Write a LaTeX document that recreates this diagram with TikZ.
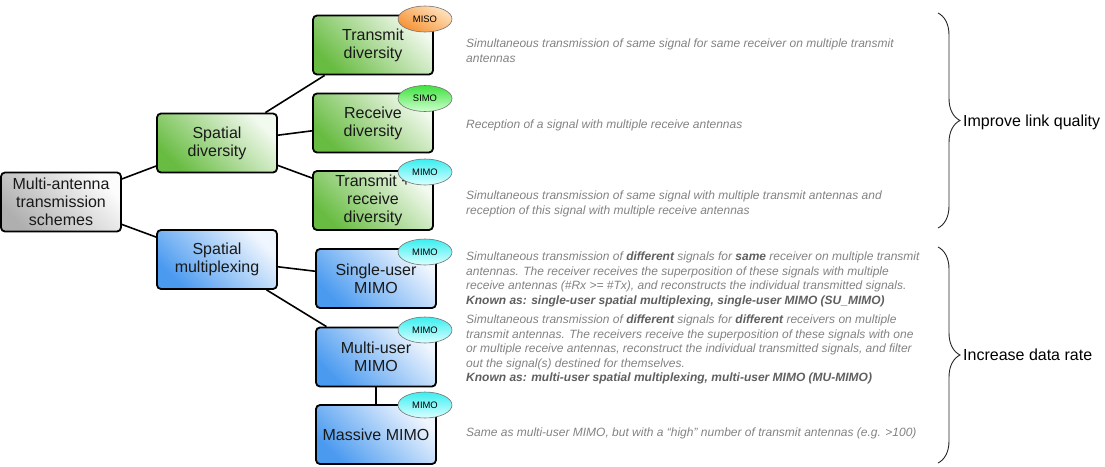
\documentclass[tikz,border=0pt]{standalone}
\usepackage{fontspec}
\setmainfont{Liberation Sans}
\usetikzlibrary{shapes.geometric,decorations.pathreplacing}

\definecolor{grayDark}{RGB}{175,175,175}
\definecolor{grayLight}{RGB}{252,252,252}
\definecolor{grnDark}{RGB}{104,188,66}
\definecolor{grnLight}{RGB}{242,249,238}
\definecolor{bluDark}{RGB}{74,154,240}
\definecolor{bluLight}{RGB}{240,246,254}
\definecolor{misoDark}{RGB}{246,146,52}
\definecolor{misoLight}{RGB}{255,226,190}
\definecolor{simoDark}{RGB}{64,226,64}
\definecolor{simoLight}{RGB}{205,255,205}
\definecolor{mimoDark}{RGB}{60,238,240}
\definecolor{mimoLight}{RGB}{218,255,255}
\definecolor{descGray}{RGB}{130,130,130}
\definecolor{kwGray}{RGB}{95,95,95}

\newcommand{\kw}[1]{{\bfseries\color{kwGray}#1}}

\tikzset{
  box/.style={draw=black, line width=1.8pt, rounded corners=4pt, minimum width=120pt,
    minimum height=59pt, inner sep=1pt, align=center, text=black!90,
    font=\fontsize{16}{18}\selectfont},
  rootbox/.style={box, top color=grayLight, bottom color=grayDark, shading angle=-45},
  greenbox/.style={box, top color=grnLight, bottom color=grnDark, shading angle=-45},
  bluebox/.style={box, top color=bluLight, bottom color=bluDark, shading angle=-45},
  tag/.style={ellipse, draw=black!55, line width=0.6pt, minimum width=54pt,
    minimum height=26pt, inner sep=0pt, font=\fontsize{9.4}{10}\selectfont},
  misotag/.style={tag, top color=misoLight, bottom color=misoDark, shading angle=-30},
  simotag/.style={tag, top color=simoDark, bottom color=simoLight},
  mimotag/.style={tag, top color=mimoDark, bottom color=mimoLight},
  desc/.style={anchor=west, align=left, inner sep=0pt, text=descGray,
    font=\fontsize{12}{14.6}\selectfont\itshape},
  link/.style={line width=1.6pt},
  curly/.style={decorate, decoration={brace, amplitude=22pt}, line width=0.9pt, black!85},
  bracelabel/.style={anchor=west, inner sep=0pt, font=\fontsize{16}{18}\selectfont}
}

\begin{document}
\begin{tikzpicture}[x=1pt, y=-1pt]
\useasboundingbox (0,0) rectangle (1105,466);

\node[rootbox] (root) at (61,202) {Multi-antenna\\transmission\\schemes};
\node[greenbox] (div) at (217,143) {Spatial\\diversity};
\node[bluebox] (mux) at (217,259.5) {Spatial\\multiplexing};

\node[greenbox] (txdiv) at (373,45) {Transmit\\diversity};
\node[greenbox] (rxdiv) at (373,123) {Receive\\diversity};
\node[greenbox] (trxdiv) at (373,200.5) {Transmit +\\receive\\diversity};
\node[bluebox] (sumimo) at (376,278.5) {Single-user\\MIMO};
\node[bluebox] (mumimo) at (376,357) {Multi-user\\MIMO};
\node[bluebox] (massive) at (376,434.5) {Massive MIMO};

\draw[link] (root) -- (div);
\draw[link] (root) -- (mux);
\draw[link] (div) -- (txdiv);
\draw[link] (div) -- (rxdiv);
\draw[link] (div) -- (trxdiv);
\draw[link] (mux) -- (sumimo);
\draw[link] (mux) -- (mumimo);
\draw[link] (mumimo) -- (massive);

% antenna tags
\node[misotag] (miso) at (425,19) {MISO};
\node[simotag] (simo) at (425,98.5) {SIMO};
\node[mimotag] (mimo1) at (425,172) {MIMO};
\node[mimotag] (mimo2) at (425,252) {MIMO};
\node[mimotag] (mimo3) at (425,330) {MIMO};
\node[mimotag] (mimo4) at (425,405) {MIMO};

\node[desc] (txtext) at (466,50.5) {Simultaneous transmission of same signal for same receiver on multiple transmit\\antennas};
\node[desc] (rxtext) at (466,125) {Reception of a signal with multiple receive antennas};
\node[desc] (trxtext) at (466,204) {Simultaneous transmission of same signal with multiple transmit antennas and\\reception of this signal with multiple receive antennas};
\node[desc] (sutext) at (466,279.5) {Simultaneous transmission of \kw{different} signals for \kw{same} receiver on multiple transmit\\antennas. The receiver receives the superposition of these signals with multiple\\receive antennas (\#Rx >= \#Tx), and reconstructs the individual transmitted signals.\\\kw{Known as: single-user spatial multiplexing, single-user MIMO (SU\_MIMO)}};
\node[desc] (mutext) at (466,349.5) {Simultaneous transmission of \kw{different} signals for \kw{different} receivers on multiple\\transmit antennas. The receivers receive the superposition of these signals with one\\or multiple receive antennas, reconstruct the individual transmitted signals, and filter\\out the signal(s) destined for themselves.\\\kw{Known as: multi-user spatial multiplexing, multi-user MIMO (MU-MIMO)}};
\node[desc] (masstext) at (466,433) {Same as multi-user MIMO, but with a “high” number of transmit antennas (e.g. >100)};

% braces
\coordinate (qtop) at (938,13);
\coordinate (qbot) at (938,228);
\coordinate (rtop) at (938,247);
\coordinate (rbot) at (938,463);
\draw[curly] (qtop) -- (qbot);
\draw[curly] (rtop) -- (rbot);
\node[bracelabel] (quality) at (963,122) {Improve link quality};
\node[bracelabel] (rate) at (963,355) {Increase data rate};
\end{tikzpicture}
\end{document}
